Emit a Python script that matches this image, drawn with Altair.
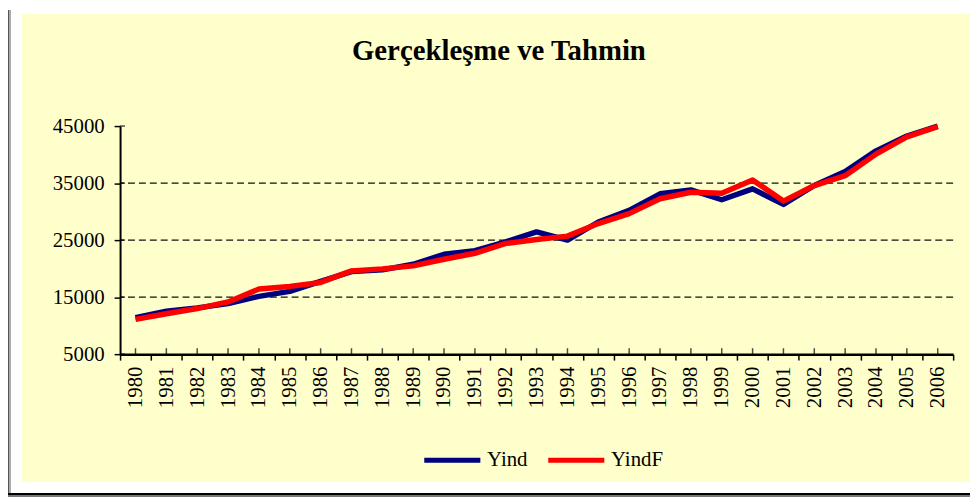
import altair as alt
import pandas as pd

years = [str(y) for y in range(1980, 2007)]
yind = [11380, 12530, 13120, 13870, 15140, 16010, 17750, 19490, 19780, 20770,
        22510, 23140, 24700, 26440, 25000, 28180, 30220, 33120, 33810, 32080,
        33990, 31260, 34570, 37050, 40650, 43260, 45000]
yindf = [11090, 12080, 13000, 14160, 16420, 16880, 17580, 19610, 19960, 20480,
         21640, 22690, 24420, 25100, 25700, 27900, 29640, 32250, 33400, 33230,
         35550, 31840, 34570, 36300, 40080, 43090, 44900]
series = ["Yind", "YindF"]
colors = ["#000080", "#FF0000"]
y_ticks = [5000, 15000, 25000, 35000, 45000]
grid_vals = [15000, 25000, 35000]
title_text = ["Gerçekleşme ve Tahmin"]

FONT = "Liberation Serif"

df = pd.DataFrame({
    "Yil": years * 2,
    "Seri": [series[0]] * len(years) + [series[1]] * len(years),
    "Deger": yind + yindf,
})

xscale = alt.Scale(domain=years, paddingInner=0, paddingOuter=0)
yscale = alt.Scale(domain=[5000, 45000], nice=False, zero=False)

one = pd.DataFrame({"a": [0]})

# decorative frame (Excel chart area)
panel = alt.Chart(one).mark_rect(color="#FFFFCC", clip=False).encode(
    x=alt.value(-99), x2=alt.value(857), y=alt.value(-113), y2=alt.value(359))
left_bar = alt.Chart(one).mark_rect(color="#555555", clip=False).encode(
    x=alt.value(-113), x2=alt.value(-111.5), y=alt.value(-117), y2=alt.value(372))
left_bar2 = alt.Chart(one).mark_rect(color="#AAAAAA", clip=False).encode(
    x=alt.value(-111.5), x2=alt.value(-110), y=alt.value(-117), y2=alt.value(372))
bottom_bar = alt.Chart(one).mark_rect(color="#000000", clip=False).encode(
    x=alt.value(-113), x2=alt.value(857), y=alt.value(370), y2=alt.value(372))
bottom_bar2 = alt.Chart(one).mark_rect(color="#777777", clip=False).encode(
    x=alt.value(-113), x2=alt.value(857), y=alt.value(372), y2=alt.value(374))

title = alt.Chart(pd.DataFrame({"t": title_text})).mark_text(
    font=FONT, fontSize=29, fontWeight="bold", color="black", align="center",
    baseline="alphabetic", clip=False).encode(
    x=alt.value(382), y=alt.value(-67), text="t:N")

grid = alt.Chart(pd.DataFrame({"g": grid_vals})).mark_rule(
    color="#111111", strokeWidth=1.2, strokeDash=[7, 4]).encode(
    y=alt.Y("g:Q", scale=yscale))

center_ticks = alt.Chart(pd.DataFrame({"Yil": years, "base": [5000] * len(years)})).mark_tick(
    orient="vertical", size=6, thickness=1.5, color="black", yOffset=-3).encode(
    x=alt.X("Yil:N", scale=xscale), y=alt.Y("base:Q", scale=yscale))

inner_ticks = alt.Chart(pd.DataFrame({"v": y_ticks})).mark_tick(
    orient="horizontal", size=5, thickness=1.5, color="black", xOffset=2.5).encode(
    x=alt.value(0), y=alt.Y("v:Q", scale=yscale))

lines = alt.Chart(df).mark_line(strokeWidth=5.5, strokeJoin="round").encode(
    x=alt.X("Yil:N", scale=xscale, sort=years,
            axis=alt.Axis(title=None, labelAngle=270, labelFont=FONT, labelFontSize=21,
                          labelColor="black", labelPadding=6, labelAlign="right",
                          labelBaseline="middle", tickBand="extent", tickSize=6,
                          tickColor="black", tickWidth=1.5, domainColor="black",
                          domainWidth=2.5, grid=False, zindex=1)),
    y=alt.Y("Deger:Q", scale=yscale,
            axis=alt.Axis(title=None, values=y_ticks, format="d", labelFont=FONT,
                          labelFontSize=21, labelColor="black", labelPadding=10, tickSize=6,
                          tickColor="black", tickWidth=1.5, domainColor="black",
                          domainWidth=2, grid=False, zindex=1)),
    color=alt.Color("Seri:N", scale=alt.Scale(domain=series, range=colors),
                    legend=alt.Legend(title=None, orient="none", legendX=304, legendY=306,
                                      direction="horizontal", symbolType="stroke",
                                      symbolSize=3200, symbolStrokeWidth=5,
                                      labelFont=FONT, labelFontSize=21, labelColor="black",
                                      labelOffset=4, columnPadding=10, padding=0)),
)

chart = alt.layer(panel, left_bar, left_bar2, bottom_bar, bottom_bar2, title, grid,
                  center_ticks, inner_ticks, lines).properties(
    width=840, height=230,
    padding={"left": 113, "top": 117, "right": 17, "bottom": 144},
    autosize=alt.AutoSizeParams(type="none"),
    background="white",
).configure_view(stroke=None)

chart.save("out.html", embed_options={"renderer": "svg", "actions": False})
